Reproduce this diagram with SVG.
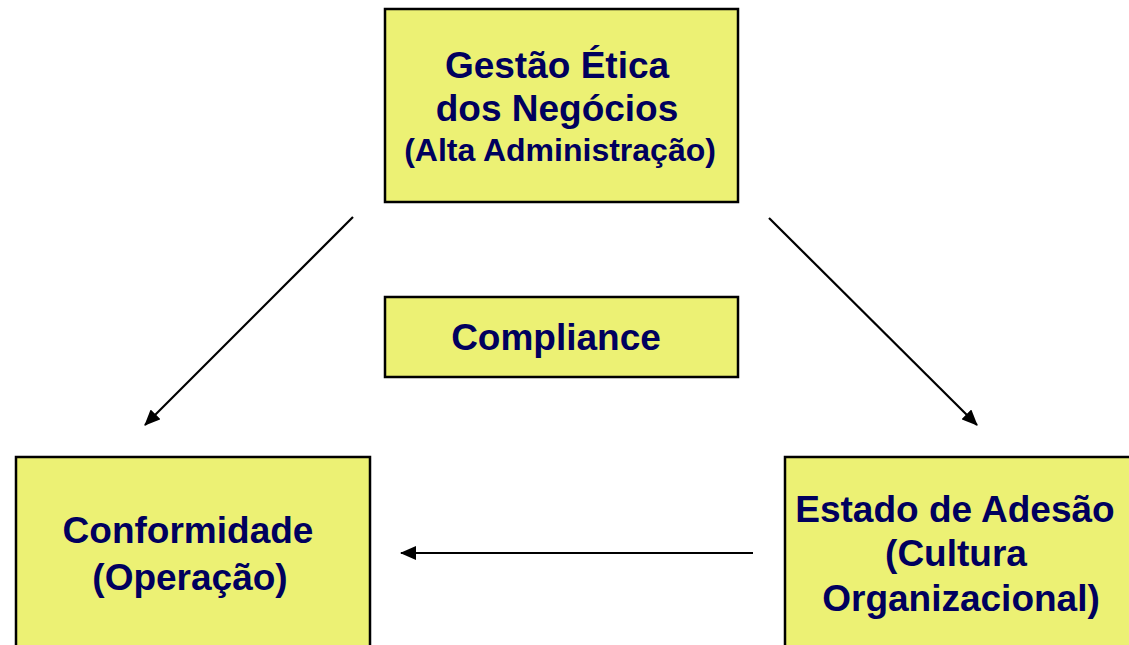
<svg xmlns="http://www.w3.org/2000/svg" width="1129" height="645" viewBox="0 0 1129 645">
  <defs>
    <marker id="arrow" markerUnits="userSpaceOnUse" markerWidth="16" markerHeight="14" refX="15" refY="7" orient="auto">
      <path d="M0,0 L16,7 L0,14 Z" fill="#000"/>
    </marker>
    <style>
      .box { fill: #ecf174; stroke: #000; stroke-width: 2.5; }
      .t { font-family: "Liberation Sans", Arial, sans-serif; font-weight: bold; fill: #00005e; text-anchor: middle; }
      .big { font-size: 37px; }
      .small { font-size: 32px; }
      .conn { stroke: #000; stroke-width: 2.2; fill: none; marker-end: url(#arrow); }
    </style>
  </defs>
  <rect width="1129" height="645" fill="#fff"/>
  <g id="connectors">
    <line class="conn" x1="353" y1="217" x2="145" y2="425"/>
    <line class="conn" x1="769" y1="218" x2="977" y2="425"/>
    <line class="conn" x1="753" y1="553" x2="401" y2="553"/>
  </g>
  <g id="gestao">
    <rect class="box" x="385" y="9" width="353" height="193"/>
    <text class="t big" x="557" y="78">Gestão Ética</text>
    <text class="t big" x="557" y="121">dos Negócios</text>
    <text class="t small" x="560" y="161">(Alta Administração)</text>
  </g>
  <g id="compliance">
    <rect class="box" x="385" y="297" width="353" height="80"/>
    <text class="t big" x="556" y="350">Compliance</text>
  </g>
  <g id="conformidade">
    <rect class="box" x="16" y="457" width="354" height="200"/>
    <text class="t big" x="188" y="543">Conformidade</text>
    <text class="t big" x="190" y="590">(Operação)</text>
  </g>
  <g id="estado">
    <rect class="box" x="785" y="457" width="360" height="200"/>
    <text class="t big" x="955" y="522">Estado de Adesão</text>
    <text class="t big" x="956" y="566">(Cultura</text>
    <text class="t big" x="961" y="611">Organizacional)</text>
  </g>
</svg>
